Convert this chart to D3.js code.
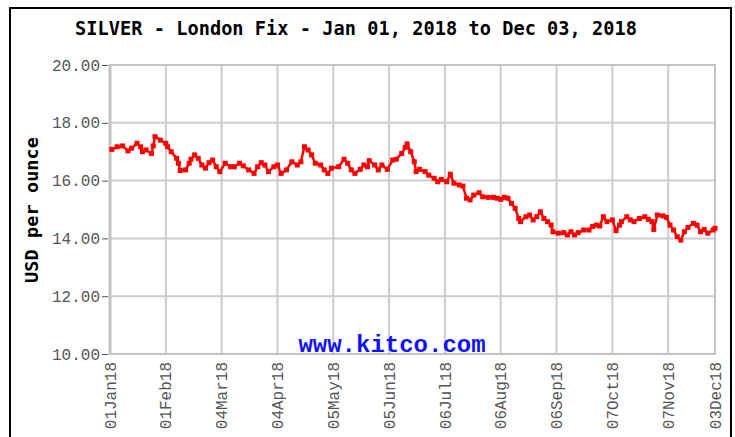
<!DOCTYPE html>
<html>
<head>
<meta charset="utf-8">
<script src="https://cdn.jsdelivr.net/npm/d3@7"></script>
<style>
  body { margin: 0; background: #fff; }
  svg { display: block; }
</style>
</head>
<body>
<svg id="chart"></svg>
<script>
// London Fix silver
const dates = [
  "2018-01-02","2018-01-05","2018-01-08","2018-01-11","2018-01-13","2018-01-16","2018-01-18","2018-01-19",
  "2018-01-21","2018-01-24","2018-01-25","2018-01-26","2018-01-29","2018-02-01","2018-02-02","2018-02-04",
  "2018-02-07","2018-02-08","2018-02-09","2018-02-12","2018-02-14","2018-02-15","2018-02-17","2018-02-19",
  "2018-02-21","2018-02-23","2018-02-25","2018-02-27","2018-03-01","2018-03-03","2018-03-06","2018-03-09",
  "2018-03-11","2018-03-14","2018-03-16","2018-03-19","2018-03-22","2018-03-24","2018-03-26","2018-03-28",
  "2018-03-30","2018-04-02","2018-04-04","2018-04-06","2018-04-09","2018-04-12","2018-04-15","2018-04-17",
  "2018-04-19","2018-04-21","2018-04-23","2018-04-25","2018-04-28","2018-04-30","2018-05-02","2018-05-04",
  "2018-05-08","2018-05-11","2018-05-13","2018-05-15","2018-05-17","2018-05-20","2018-05-22","2018-05-24",
  "2018-05-25","2018-05-28","2018-05-30","2018-06-01","2018-06-04","2018-06-07","2018-06-09","2018-06-12",
  "2018-06-14","2018-06-15","2018-06-17","2018-06-19","2018-06-20","2018-06-22","2018-06-25","2018-06-27",
  "2018-06-30","2018-07-02","2018-07-04","2018-07-07","2018-07-09","2018-07-11","2018-07-14","2018-07-16",
  "2018-07-18","2018-07-20","2018-07-22","2018-07-25","2018-07-27","2018-07-30","2018-08-02","2018-08-04",
  "2018-08-06","2018-08-08","2018-08-10","2018-08-12","2018-08-14","2018-08-16","2018-08-17","2018-08-20",
  "2018-08-22","2018-08-24","2018-08-26","2018-08-28","2018-08-30","2018-09-01","2018-09-03","2018-09-04",
  "2018-09-07","2018-09-10","2018-09-12","2018-09-14","2018-09-16","2018-09-18","2018-09-21","2018-09-24",
  "2018-09-26","2018-09-28","2018-09-30","2018-10-02","2018-10-04","2018-10-07","2018-10-09","2018-10-11",
  "2018-10-12","2018-10-15","2018-10-17","2018-10-19","2018-10-22","2018-10-25","2018-10-27","2018-10-29",
  "2018-10-30","2018-11-01","2018-11-04","2018-11-06","2018-11-08","2018-11-10","2018-11-12","2018-11-14",
  "2018-11-16","2018-11-18","2018-11-21","2018-11-23","2018-11-25","2018-11-27","2018-11-29","2018-12-02",
  "2018-12-03"
];

const prices = [
  17.08,17.17,17.20,17.03,17.12,17.29,17.17,17.00,
  17.06,16.94,17.20,17.52,17.40,17.29,17.17,17.00,
  16.77,16.60,16.35,16.37,16.60,16.74,16.89,16.77,
  16.54,16.43,16.62,16.71,16.48,16.31,16.60,16.48,
  16.48,16.60,16.51,16.37,16.25,16.48,16.62,16.54,
  16.31,16.48,16.54,16.25,16.37,16.65,16.54,16.65,
  17.17,17.06,16.89,16.60,16.54,16.37,16.25,16.43,
  16.48,16.74,16.60,16.37,16.25,16.39,16.54,16.48,
  16.69,16.54,16.37,16.54,16.39,16.71,16.74,16.94,
  17.15,17.27,17.00,16.65,16.31,16.39,16.31,16.19,
  16.08,15.96,16.04,15.96,16.22,15.91,15.85,15.81,
  15.39,15.33,15.50,15.58,15.44,15.42,15.42,15.39,
  15.35,15.42,15.39,15.21,15.04,14.69,14.58,14.75,
  14.81,14.64,14.75,14.92,14.69,14.58,14.46,14.23,
  14.18,14.20,14.12,14.23,14.12,14.20,14.29,14.29,
  14.41,14.46,14.43,14.75,14.58,14.64,14.27,14.46,
  14.58,14.75,14.64,14.58,14.69,14.75,14.66,14.58,
  14.31,14.81,14.78,14.73,14.46,14.29,14.06,13.94,
  14.23,14.38,14.52,14.46,14.23,14.31,14.18,14.29,
  14.35
];

const yTicks = [10, 12, 14, 16, 18, 20];
const xTickDates = [
  "2018-01-01","2018-02-01","2018-03-04","2018-04-04","2018-05-05","2018-06-05",
  "2018-07-06","2018-08-06","2018-09-06","2018-10-07","2018-11-07","2018-12-03"
];
const xTickLabels = [
  "01Jan18","01Feb18","04Mar18","04Apr18","05May18","05Jun18",
  "06Jul18","06Aug18","06Sep18","07Oct18","07Nov18","03Dec18"
];

const W = 735, H = 437;
const plot = { left: 110, right: 715, top: 65, bottom: 354 };
const parse = d3.timeParse("%Y-%m-%d");

const data = dates.map((d, i) => ({ date: parse(d), value: prices[i] }));

const x = d3.scaleTime()
  .domain([parse("2018-01-01"), parse("2018-12-03")])
  .range([plot.left, plot.right]);

const y = d3.scaleLinear()
  .domain([10, 20])
  .range([plot.bottom, plot.top]);

const svg = d3.select("#chart")
  .attr("width", W)
  .attr("height", H);

svg.append("rect")
  .attr("width", W).attr("height", H)
  .attr("fill", "#fff");

// outer frame
svg.append("rect")
  .attr("x", 10).attr("y", 8)
  .attr("width", 721).attr("height", 440)
  .attr("fill", "none")
  .attr("stroke", "#000")
  .attr("stroke-width", 2);

// title
svg.append("text")
  .attr("x", 75).attr("y", 35)
  .attr("font-family", "DejaVu Sans Mono, monospace")
  .attr("font-weight", "bold")
  .attr("font-size", 18.6)
  .attr("textLength", 562)
  .attr("fill", "#000")
  .text("SILVER - London Fix - Jan 01, 2018 to Dec 03, 2018");

// grid
const grid = svg.append("g").attr("class", "grid");
grid.selectAll("line.h")
  .data(yTicks).enter()
  .append("line")
  .attr("class", "h")
  .attr("x1", plot.left).attr("x2", plot.right)
  .attr("y1", d => y(d)).attr("y2", d => y(d))
  .attr("stroke", "#cccccc")
  .attr("stroke-width", 2);

grid.selectAll("line.v")
  .data(xTickDates).enter()
  .append("line")
  .attr("class", "v")
  .attr("x1", d => x(parse(d))).attr("x2", d => x(parse(d)))
  .attr("y1", plot.top).attr("y2", plot.bottom)
  .attr("stroke", "#cccccc")
  .attr("stroke-width", 2);

// plot border, heavier on the left
svg.append("rect")
  .attr("x", plot.left).attr("y", plot.top)
  .attr("width", plot.right - plot.left)
  .attr("height", plot.bottom - plot.top)
  .attr("fill", "none")
  .attr("stroke", "#c4c4c4")
  .attr("stroke-width", 2);
svg.append("line")
  .attr("x1", plot.left).attr("x2", plot.left)
  .attr("y1", plot.top - 1).attr("y2", plot.bottom + 1)
  .attr("stroke", "#c4c4c4")
  .attr("stroke-width", 3);

// y axis
const yAxis = d3.axisLeft(y)
  .tickValues(yTicks)
  .tickSize(6)
  .tickPadding(2)
  .tickFormat(d3.format(".2f"));

const gy = svg.append("g")
  .attr("transform", `translate(${plot.left - 2},0)`)
  .call(yAxis);
gy.select(".domain").remove();
gy.selectAll(".tick line").attr("stroke", "#555").attr("stroke-width", 1);
gy.selectAll(".tick text")
  .attr("font-family", "Liberation Mono, monospace")
  .attr("font-size", 16)
  .attr("fill", "#555");

// x axis
const xAxis = d3.axisBottom(x)
  .tickValues(xTickDates.map(parse))
  .tickSize(0)
  .tickFormat((d, i) => xTickLabels[i]);

const gx = svg.append("g")
  .attr("transform", `translate(0,${plot.bottom + 2})`)
  .call(xAxis);
gx.select(".domain").remove();
gx.selectAll(".tick text")
  .attr("font-family", "Liberation Mono, monospace")
  .attr("font-size", 16)
  .attr("fill", "#555")
  .attr("transform", "rotate(-90)")
  .attr("text-anchor", "end")
  .attr("x", -6)
  .attr("y", 0)
  .attr("dy", "0.32em");

// y axis title
svg.append("text")
  .attr("transform", "translate(38,210) rotate(-90)")
  .attr("text-anchor", "middle")
  .attr("font-family", "DejaVu Sans Mono, monospace")
  .attr("font-weight", "bold")
  .attr("font-size", 18.5)
  .attr("textLength", 146)
  .attr("fill", "#000")
  .text("USD per ounce");

// watermark
svg.append("text")
  .attr("x", 392).attr("y", 352)
  .attr("text-anchor", "middle")
  .attr("font-family", "Liberation Mono, monospace")
  .attr("font-weight", "bold")
  .attr("font-size", 24)
  .attr("fill", "#1010ff")
  .text("www.kitco.com");

// price line
const line = d3.line()
  .x(d => x(d.date))
  .y(d => y(d.value));

svg.append("path")
  .datum(data)
  .attr("d", line)
  .attr("fill", "none")
  .attr("stroke", "#ff0000")
  .attr("stroke-width", 2.5)
  .attr("stroke-linejoin", "round");

svg.append("g")
  .selectAll("rect")
  .data(data).enter()
  .append("rect")
  .attr("x", d => x(d.date) - 2.5)
  .attr("y", d => y(d.value) - 2.5)
  .attr("width", 5)
  .attr("height", 5)
  .attr("fill", "#ff0000");
</script>
</body>
</html>
